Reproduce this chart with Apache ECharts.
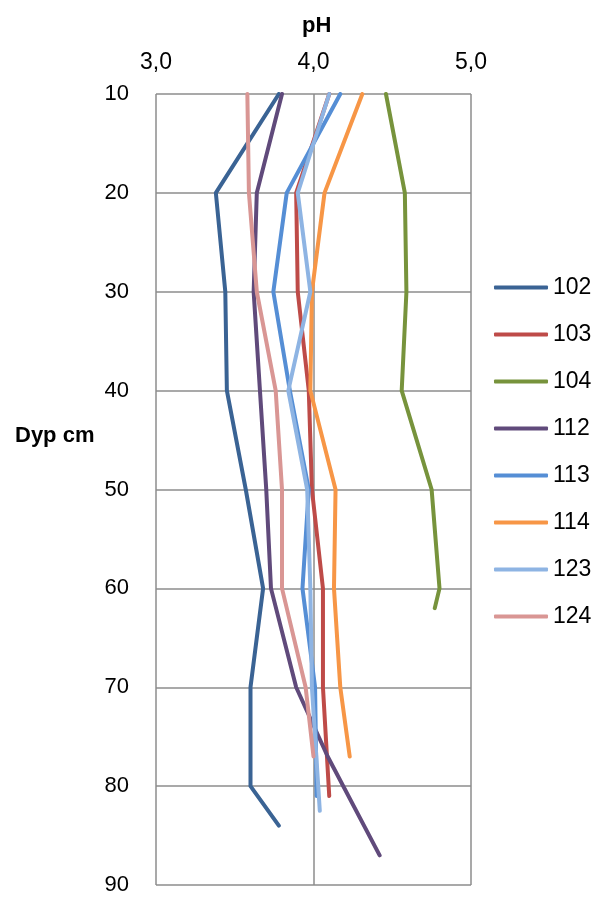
<!DOCTYPE html>
<html><head><meta charset="utf-8">
<script src="https://cdn.jsdelivr.net/npm/echarts@6/dist/echarts.min.js"></script>
<style>html,body{margin:0;padding:0;background:#fff}#c{width:595px;height:898px}</style>
</head><body><div id="c"></div>
<script>
var seriesNames = ['102','103','104','112','113','114','123','124'];
var xTicks = ['3,0','4,0','5,0'];
var yTicks = [10,20,30,40,50,60,70,80,90];
// [pH, depth cm]
var s102 = [[3.78,10],[3.38,20],[3.44,30],[3.45,40],[3.57,50],[3.68,60],[3.60,70],[3.60,80],[3.78,84]];
var s103 = [[4.10,10],[3.89,20],[3.90,30],[3.97,40],[3.99,50],[4.06,60],[4.06,70],[4.10,81]];
var s104 = [[4.46,10],[4.58,20],[4.59,30],[4.56,40],[4.75,50],[4.80,60],[4.77,62]];
var s112 = [[3.80,10],[3.64,20],[3.62,30],[3.66,40],[3.70,50],[3.73,60],[3.89,70],[4.09,77],[4.42,87]];
var s113 = [[4.17,10],[3.83,20],[3.745,30],[3.85,40],[3.97,50],[3.93,60],[4.01,70],[4.02,81]];
var s114 = [[4.31,10],[4.07,20],[3.99,30],[3.98,40],[4.14,50],[4.13,60],[4.17,70],[4.23,77]];
var s123 = [[4.10,10],[3.90,20],[3.98,30],[3.84,40],[3.96,50],[3.98,60],[3.99,70],[4.04,82.5]];
var s124 = [[3.58,10],[3.59,20],[3.64,30],[3.76,40],[3.80,50],[3.80,60],[3.95,70],[4.00,77]];
var allData = [s102,s103,s104,s112,s113,s114,s123,s124];
var colors = ['#3A6394','#BE4B48','#77933C','#604A7B','#558ED5','#F79646','#8EB4E3','#D99694'];

var font = 'Liberation Sans, Arial, sans-serif';
var chart = echarts.init(document.getElementById('c'), null, {renderer:'canvas'});
chart.setOption({
  animation:false,
  color: colors,
  grid:{left:156, right:124, top:94, bottom:13},
  xAxis:{
    type:'value', position:'top', min:3, max:5, interval:1,
    axisLine:{show:false}, axisTick:{show:false},
    splitLine:{show:true, lineStyle:{color:'#8C8C8C', width:1.5}},
    axisLabel:{fontFamily:font, fontSize:23, color:'#000', margin:20,
      formatter:function(v){ return xTicks[Math.round(v-3)]; }}
  },
  yAxis:{
    type:'value', inverse:true, min:10, max:90, interval:10,
    axisLine:{show:false}, axisTick:{show:false},
    splitLine:{show:true, lineStyle:{color:'#8C8C8C', width:1.5}},
    axisLabel:{fontFamily:font, fontSize:22, color:'#000', margin:27,
      formatter:function(v){ return yTicks.indexOf(v)>=0 ? String(v) : ''; }}
  },
  legend:{
    orient:'vertical', left:489, top:271, itemWidth:54, itemHeight:4, itemGap:24,
    icon:'roundRect',
    textStyle:{fontFamily:font, fontSize:23, color:'#000'},
    data: seriesNames
  },
  graphic:[
    {type:'text', left:302, top:15, style:{text:'pH', font:'bold 22px '+font, fill:'#000'}},
    {type:'text', left:15, top:425, style:{text:'Dyp cm', font:'bold 22px '+font, fill:'#000'}}
  ],
  series: seriesNames.map(function(n,i){
    return {name:n, type:'line', data:allData[i], symbol:'none', showSymbol:false,
      lineStyle:{width:4, color:colors[i], cap:'round', join:'round'},
      itemStyle:{color:colors[i]}};
  })
});
</script></body></html>
